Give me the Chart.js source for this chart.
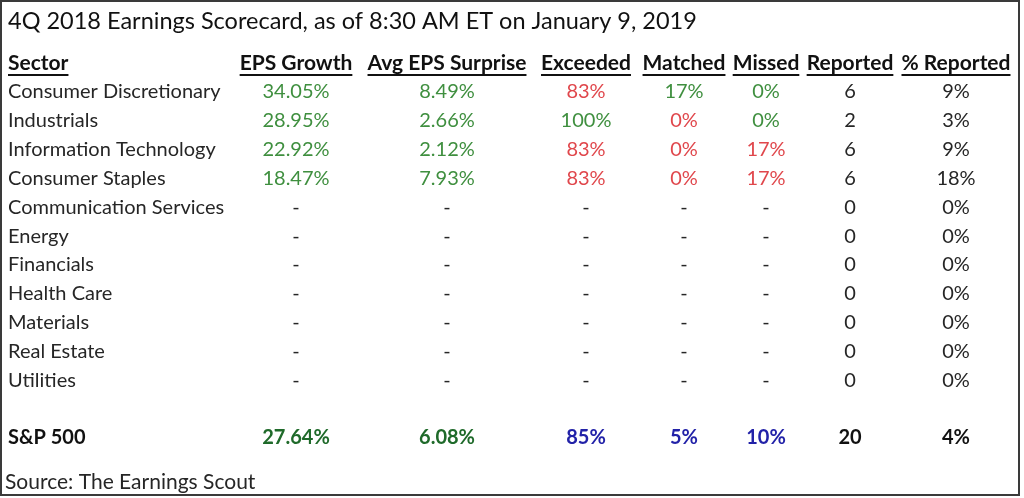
<!DOCTYPE html>
<html>
<head>
<meta charset="utf-8">
<title>4Q 2018 Earnings Scorecard</title>
<script src="https://cdn.jsdelivr.net/npm/chart.js@4/dist/chart.umd.min.js"></script>
<style>
  html, body { margin: 0; padding: 0; background: #fff; }
  #wrap { width: 1024px; height: 498px; }
</style>
</head>
<body>
<div id="wrap"><canvas id="scorecard"></canvas></div>
<script>
// Table values
const titleText = '4Q 2018 Earnings Scorecard, as of 8:30 AM ET on January 9, 2019';
const sourceText = 'Source: The Earnings Scout';
const headers = ['Sector', 'EPS Growth', 'Avg EPS Surprise', 'Exceeded', 'Matched', 'Missed', 'Reported', '% Reported'];
const sectors = [
  'Consumer Discretionary', 'Industrials', 'Information Technology', 'Consumer Staples',
  'Communication Services', 'Energy', 'Financials', 'Health Care', 'Materials', 'Real Estate', 'Utilities'
];
const epsGrowth = [34.05, 28.95, 22.92, 18.47, null, null, null, null, null, null, null];
const avgSurprise = [8.49, 2.66, 2.12, 7.93, null, null, null, null, null, null, null];
const exceeded = [83, 100, 83, 83, null, null, null, null, null, null, null];
const matched = [17, 0, 0, 0, null, null, null, null, null, null, null];
const missed = [0, 0, 17, 17, null, null, null, null, null, null, null];
const reported = [6, 2, 6, 6, 0, 0, 0, 0, 0, 0, 0];
const pctReported = [9, 3, 9, 18, 0, 0, 0, 0, 0, 0, 0];
const totalLabel = 'S&P 500';
const totalRow = [27.64, 6.08, 85, 5, 10, 20, 4];

// layout: x centre of each numeric column (x scale runs 0..1024 px)
const colX = [296, 447, 586, 684, 766, 850, 956];
const sectorX = 8;

const colors = {
  text: '#262626',
  green: '#3f8f3f',
  greenBold: '#1f6a2a',
  red: '#e0474c',
  blue: '#2222a8',
  frame: '#3a3a3a',
};

const pct2 = v => v.toFixed(2) + '%';
const pct0 = v => v + '%';
const num = v => String(v);

// per column: values, formatter, colour rule
const columns = [
  { values: epsGrowth, fmt: pct2, color: () => colors.green },
  { values: avgSurprise, fmt: pct2, color: () => colors.green },
  { values: exceeded, fmt: pct0, color: v => v === 100 ? colors.green : colors.red },
  { values: matched, fmt: pct0, color: v => v > 0 ? colors.green : colors.red },
  { values: missed, fmt: pct0, color: v => v === 0 ? colors.green : colors.red },
  { values: reported, fmt: num, color: () => colors.text },
  { values: pctReported, fmt: pct0, color: () => colors.text },
];
const totalColors = [colors.greenBold, colors.greenBold, colors.blue, colors.blue, colors.blue, '#111', '#111'];
const totalFmt = [pct2, pct2, pct0, pct0, pct0, num, pct0];

const FONT = 'Lato, "Open Sans", sans-serif';
const TOTAL_ROW = sectors.length + 1;

// one scatter dataset per column, each point carries its row index
const datasets = columns.map((col, c) => ({
  label: headers[c + 1],
  data: col.values.map((v, r) => ({ x: colX[c], y: r, v })).concat([{ x: colX[c], y: TOTAL_ROW, v: totalRow[c], total: true }]),
  pointRadius: 0,
  colIndex: c,
}));
datasets.push({
  label: 'Sector',
  data: sectors.map((s, r) => ({ x: sectorX, y: r, v: s })).concat([{ x: sectorX, y: TOTAL_ROW, v: totalLabel, total: true }]),
  pointRadius: 0,
  colIndex: -1,
});

const tablePlugin = {
  id: 'tablePlugin',
  beforeDraw(chart) {
    const ctx = chart.ctx;
    ctx.save();
    ctx.fillStyle = '#fff';
    ctx.fillRect(0, 0, chart.width, chart.height);
    ctx.strokeStyle = colors.frame;
    ctx.lineWidth = 2;
    ctx.strokeRect(1, 1, 1018, 494);
    ctx.restore();
  },
  afterDatasetsDraw(chart) {
    const ctx = chart.ctx;
    const xs = chart.scales.x, ys = chart.scales.y;
    ctx.save();
    ctx.textBaseline = 'middle';

    // title + source
    ctx.fillStyle = '#111';
    ctx.textAlign = 'left';
    ctx.font = '23.5px ' + FONT;
    ctx.fillText(titleText, 8, 21);
    ctx.fillStyle = colors.text;
    ctx.font = '21px ' + FONT;
    ctx.fillText(sourceText, 5, 482);

    // header row (y = -1), underlined
    const hy = ys.getPixelForValue(-1);
    ctx.font = 'bold 21px ' + FONT;
    ctx.fillStyle = '#111';
    ctx.strokeStyle = '#111';
    ctx.lineWidth = 2;
    headers.forEach((h, i) => {
      const x = xs.getPixelForValue(i === 0 ? sectorX : colX[i - 1]);
      const w = ctx.measureText(h).width;
      const left = i === 0 ? x : x - w / 2;
      ctx.textAlign = 'left';
      ctx.fillText(h, left, hy);
      ctx.beginPath();
      ctx.moveTo(left, hy + 12);
      ctx.lineTo(left + w, hy + 12);
      ctx.stroke();
    });

    // cells
    chart.data.datasets.forEach((ds, di) => {
      const meta = chart.getDatasetMeta(di);
      meta.data.forEach((pt, i) => {
        const d = ds.data[i];
        const c = ds.colIndex;
        let text, color;
        if (c < 0) {
          text = d.v;
          color = d.total ? '#111' : colors.text;
          ctx.textAlign = 'left';
        } else {
          ctx.textAlign = 'center';
          if (d.total) {
            text = totalFmt[c](d.v);
            color = totalColors[c];
          } else if (d.v === null) {
            text = '-';
            color = colors.text;
          } else {
            text = columns[c].fmt(d.v);
            color = columns[c].color(d.v);
          }
        }
        ctx.font = (d.total ? 'bold ' : '') + '20px ' + FONT;
        ctx.fillStyle = color;
        ctx.fillText(text, pt.x, pt.y);
      });
    });
    ctx.restore();
  }
};

new Chart(document.getElementById('scorecard'), {
  type: 'scatter',
  data: { datasets },
  options: {
    responsive: true,
    maintainAspectRatio: false,
    animation: false,
    events: [],
    layout: { padding: { top: 63, bottom: 60, left: 0, right: 0 } },
    plugins: { legend: { display: false }, tooltip: { enabled: false } },
    scales: {
      x: { type: 'linear', min: 0, max: 1024, display: false },
      y: { type: 'linear', min: -1, max: TOTAL_ROW, reverse: true, display: false },
    },
  },
  plugins: [tablePlugin],
});
</script>
</body>
</html>
